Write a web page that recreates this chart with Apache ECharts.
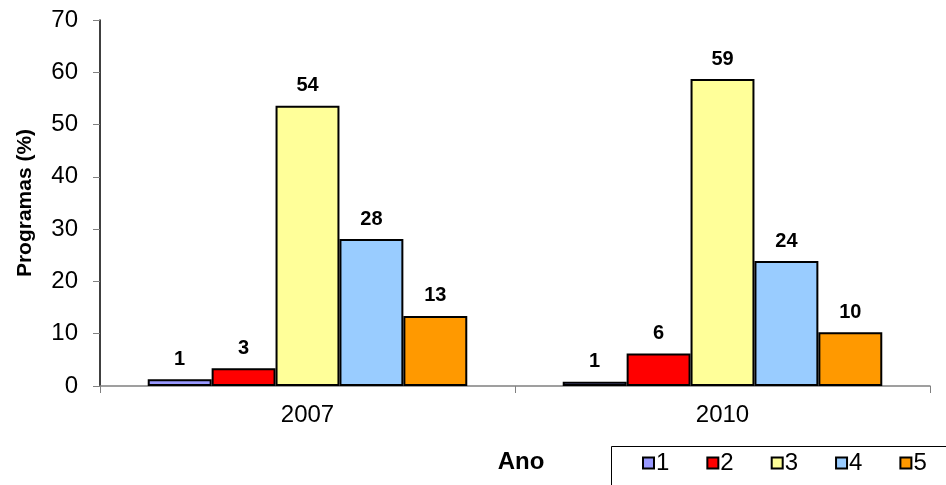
<!DOCTYPE html>
<html>
<head>
<meta charset="utf-8">
<script src="https://cdn.jsdelivr.net/npm/echarts@6/dist/echarts.min.js"></script>
<style>html,body{margin:0;padding:0;background:#fff}#c{width:946px;height:485px}</style>
</head>
<body>
<div id="c"></div>
<script>
var categories = ['2007', '2010'];
var seriesNames = ['1', '2', '3', '4', '5'];
var s1 = [1.3, 0.8];
var s2 = [3.4, 6.2];
var s3 = [53.6, 58.7];
var s4 = [28.1, 23.9];
var s5 = [13.4, 10.3];
var colors = ['#9999FF', '#FF0000', '#FFFF99', '#99CCFF', '#FF9900'];
var yTicks = [0, 10, 20, 30, 40, 50, 60, 70];

var font = 'Liberation Sans, Arial, sans-serif';
var allData = [s1, s2, s3, s4, s5];
var chart = echarts.init(document.getElementById('c'));
chart.setOption({
  animation: false,
  grid: { left: 100, right: 16, top: 20, bottom: 99, containLabel: false },
  graphic: [{
    type: 'rect', left: 611, top: 446, z: 0,
    shape: { width: 400, height: 100 },
    style: { fill: '#fff', stroke: '#000', lineWidth: 1 }
  }],
  legend: {
    data: seriesNames,
    left: 642, top: 451,
    orient: 'horizontal',
    padding: 0,
    width: 330,
    itemWidth: 11, itemHeight: 11, itemGap: 37,
    z: 10,
    textStyle: { fontFamily: font, fontSize: 24, color: '#000', padding: [0, 0, 0, -3] },
    icon: 'rect'
  },
  xAxis: {
    type: 'category',
    data: categories,
    name: 'Ano',
    nameLocation: 'middle',
    nameGap: 64,
    nameTextStyle: { fontFamily: font, fontSize: 24, fontWeight: 'bold', color: '#000', padding: [0, 0, 0, 12] },
    axisLine: { lineStyle: { color: '#808080', width: 1.5 } },
    axisTick: { show: true, length: 7, lineStyle: { color: '#808080' } },
    axisLabel: { fontFamily: font, fontSize: 24, color: '#000', margin: 17 }
  },
  yAxis: {
    type: 'value',
    min: 0, max: 70, interval: 10,
    name: 'Programas (%)',
    nameLocation: 'middle',
    nameGap: 64,
    nameRotate: 90,
    nameTextStyle: { fontFamily: font, fontSize: 21, fontWeight: 'bold', color: '#000' },
    axisLine: { show: true, lineStyle: { color: '#000', width: 1.5 } },
    axisTick: { show: true, length: 7, lineStyle: { color: '#808080' } },
    splitLine: { show: false },
    axisLabel: {
      fontFamily: font, fontSize: 24, color: '#000', margin: 22,
      formatter: function (v) { return yTicks.indexOf(v) >= 0 ? String(v) : ''; }
    }
  },
  series: seriesNames.map(function (n, i) {
    return {
      name: n,
      type: 'bar',
      data: allData[i],
      barGap: '0%',
      barCategoryGap: '23%',
      itemStyle: { color: colors[i], borderColor: '#000', borderWidth: 2 },
      label: {
        show: true, position: 'top', distance: 10,
        fontFamily: font, fontSize: 20, fontWeight: 'bold', color: '#000',
        formatter: function (p) { return Math.round(p.value); }
      }
    };
  })
});
</script>
</body>
</html>
